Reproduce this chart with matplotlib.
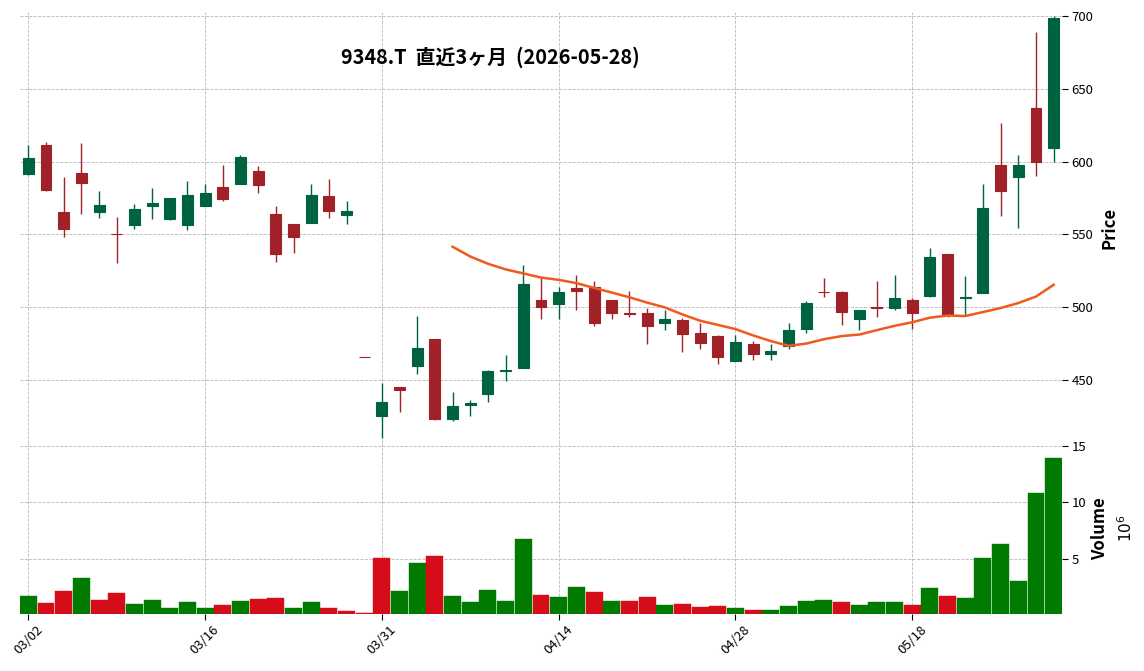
import numpy as np
import pandas as pd
import matplotlib
matplotlib.use("Agg")
import matplotlib.pyplot as plt

plt.rcParams["font.family"] = ["Noto Sans CJK JP", "DejaVu Sans"]

# trading days shown on the chart (2026)
dates = [
    "03/02", "03/03", "03/04", "03/05", "03/06", "03/09", "03/10", "03/11", "03/12", "03/13",
    "03/16", "03/17", "03/18", "03/19", "03/23", "03/24", "03/25", "03/26", "03/27", "03/30",
    "03/31", "04/01", "04/02", "04/03", "04/06", "04/07", "04/08", "04/09", "04/10", "04/13",
    "04/14", "04/15", "04/16", "04/17", "04/20", "04/21", "04/22", "04/23", "04/24", "04/27",
    "04/28", "04/30", "05/01", "05/07", "05/08", "05/11", "05/12", "05/13", "05/14", "05/15",
    "05/18", "05/19", "05/20", "05/21", "05/22", "05/25", "05/26", "05/27", "05/28",
]

opens = [
    591.6, 611.2, 565.5, 592.0, 565.5, 550.0, 556.6, 569.6, 560.5, 556.6,
    569.6, 582.4, 584.7, 593.4, 563.9, 557.1, 558.0, 576.3, 563.5, 465.6,
    425.4, 445.4, 459.9, 478.2, 423.4, 432.6, 440.6, 456.0, 458.5, 505.0,
    502.5, 513.3, 514.0, 505.0, 496.2, 496.1, 488.8, 491.3, 482.3, 480.5,
    462.9, 475.0, 467.7, 473.2, 484.8, 510.2, 510.4, 491.6, 500.0, 499.5,
    505.0, 507.7, 536.4, 506.1, 510.0, 598.0, 589.4, 637.0, 609.2,
]
highs = [
    611.6, 613.7, 589.7, 613.0, 580.1, 561.6, 571.2, 582.2, 575.0, 587.0,
    584.9, 598.0, 604.8, 597.3, 569.2, 557.1, 584.9, 587.7, 572.6, 465.6,
    447.7, 445.4, 493.8, 478.2, 441.5, 436.0, 456.6, 467.0, 528.9, 520.0,
    513.8, 522.3, 517.9, 505.0, 511.0, 499.1, 497.9, 492.5, 489.4, 480.9,
    480.9, 476.8, 474.5, 489.1, 504.3, 519.8, 510.9, 498.2, 517.7, 521.8,
    506.1, 540.9, 536.4, 521.1, 584.3, 626.3, 604.4, 689.3, 700.0,
]
lows = [
    591.0, 580.0, 548.0, 563.7, 561.0, 530.1, 553.9, 560.3, 560.0, 552.7,
    569.6, 572.8, 584.7, 578.1, 530.8, 537.0, 558.0, 561.0, 556.9, 465.6,
    409.8, 427.7, 454.1, 422.8, 421.5, 425.2, 434.6, 449.1, 458.5, 491.7,
    492.0, 497.9, 486.9, 491.7, 493.3, 474.5, 484.4, 469.0, 471.1, 461.1,
    462.9, 463.4, 463.4, 471.6, 482.3, 506.8, 487.5, 484.3, 493.2, 498.2,
    485.0, 506.8, 493.0, 494.0, 510.0, 562.9, 554.7, 589.8, 599.6,
]
closes = [
    602.3, 580.4, 553.7, 585.4, 570.1, 550.0, 567.4, 571.5, 574.9, 576.9,
    578.3, 574.4, 603.0, 584.0, 536.8, 548.4, 576.9, 566.3, 566.0, 465.6,
    434.8, 443.3, 472.0, 423.2, 432.1, 434.2, 456.2, 457.1, 515.6, 499.8,
    510.6, 511.2, 488.8, 495.8, 495.5, 487.2, 492.0, 481.9, 475.7, 465.7,
    476.4, 467.5, 470.2, 484.5, 502.9, 510.2, 497.0, 498.2, 499.1, 506.4,
    495.7, 534.3, 494.5, 506.8, 567.9, 579.8, 597.4, 599.4, 698.9,
]
# volume in millions of shares
volumes = [
    1.73, 1.12, 2.17, 3.32, 1.38, 2.00, 1.03, 1.38, 0.68, 1.20,
    0.68, 0.94, 1.29, 1.47, 1.56, 0.68, 1.20, 0.68, 0.41, 0.23,
    5.08, 2.17, 4.64, 5.25, 1.73, 1.20, 2.26, 1.29, 6.75, 1.82,
    1.64, 2.52, 2.08, 1.29, 1.29, 1.64, 0.94, 1.03, 0.76, 0.85,
    0.68, 0.50, 0.50, 0.85, 1.29, 1.38, 1.20, 0.94, 1.20, 1.20,
    0.94, 2.44, 1.73, 1.56, 5.08, 6.31, 3.05, 10.80, 13.88,
]

title = "9348.T  直近3ヶ月  (2026-05-28)"
mav_window = 25

UP = "#006340"
DOWN = "#a02128"
VUP = "#007a00"
VDOWN = "#d50d18"
MA_COLOR = "#f05a1e"
GRID = "#b8b8b8"


def main():
    o = np.array(opens)
    h = np.array(highs)
    l = np.array(lows)
    c = np.array(closes)
    v = np.array(volumes)
    x = np.arange(len(dates))

    fig = plt.figure(figsize=(11.44, 6.71), dpi=100)
    ax = fig.add_axes([0.0175, 0.3398, 0.9105, 0.6423])
    axv = fig.add_axes([0.0175, 0.0854, 0.9105, 0.2544], sharex=ax)

    for a in (ax, axv):
        for s in a.spines.values():
            s.set_visible(False)
        a.grid(True, linestyle="--", color=GRID, linewidth=0.6)
        a.set_axisbelow(True)
        a.yaxis.tick_right()
        a.yaxis.set_label_position("right")
        a.tick_params(axis="y", labelsize=9.5, length=4, width=0.8, pad=3)

    # candles
    up = c > o
    colors = np.where(up, UP, DOWN)
    ax.vlines(x, l, h, colors=colors, linewidth=1.0, zorder=2)
    body_lo = np.minimum(o, c)
    body_h = np.abs(c - o)
    ax.bar(x, body_h, width=0.62, bottom=body_lo, color=colors,
           edgecolor=colors, linewidth=0.8, zorder=3)

    # moving average of closes
    ma = pd.Series(c).rolling(mav_window).mean()
    ax.plot(x, ma, color=MA_COLOR, linewidth=1.8, zorder=4)

    ax.set_ylim(406.7, 702.75)
    ax.set_yticks([450, 500, 550, 600, 650, 700])
    ax.set_ylabel("Price", fontsize=12, fontweight="bold", labelpad=5)
    ax.tick_params(axis="x", bottom=False, labelbottom=False)

    # volume, coloured against the previous close
    prev = np.concatenate([[c[0]], c[:-1]])
    vcolors = np.where(c >= prev, VUP, VDOWN)
    axv.bar(x, v, width=0.96, color=vcolors, edgecolor=vcolors, linewidth=0.3)
    axv.set_ylim(0.18, 15.23)
    axv.set_yticks([5, 10, 15])
    axv.set_ylabel("Volume", fontsize=12, fontweight="bold", labelpad=4)
    axv.text(1.062, 0.5, "$10^{6}$", transform=axv.transAxes, rotation=90,
             ha="center", va="center", fontsize=11)

    axv.set_xticks(x[::10])
    axv.set_xticklabels(dates[::10], rotation=45, ha="center", fontsize=9.5)
    axv.tick_params(axis="x", length=4, width=0.8, pad=3)
    axv.set_xlim(-0.47, 58.45)

    fig.text(0.429, 0.915, title, ha="center", va="center",
             fontsize=14.3, fontweight="bold")

    fig.savefig("out.png", dpi=100)


if __name__ == "__main__":
    main()
